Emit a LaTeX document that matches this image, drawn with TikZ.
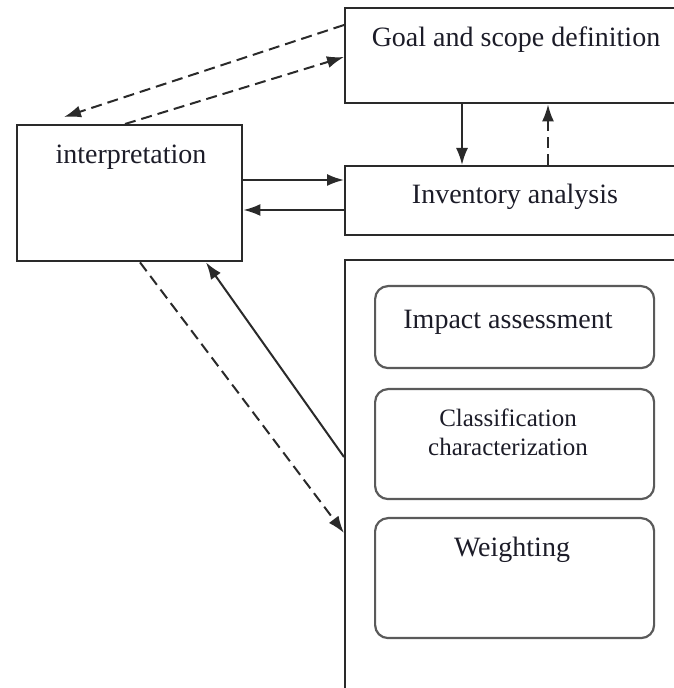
\documentclass[tikz,border=0pt]{standalone}
\usepackage{fontspec}
\setmainfont{Liberation Serif}
\usetikzlibrary{arrows.meta}
\definecolor{boxline}{HTML}{2A2A2A}
\definecolor{roundline}{HTML}{5A5A5A}
\definecolor{textdark}{HTML}{1C1C28}
\newcommand{\boxfont}{\fontsize{28}{32}\selectfont}
\newcommand{\subfont}{\fontsize{25}{29}\selectfont}
\tikzset{
  stagebox/.style={draw=boxline,line width=2.4pt,anchor=north west,inner sep=0pt},
  stepbox/.style={draw=roundline,line width=2.2pt,rounded corners=13pt,anchor=north west,inner sep=0pt},
  boxlabel/.style={text=textdark,inner sep=0pt,align=center,font=\boxfont},
  flow/.style={draw=boxline,line width=2pt,-{Latex[length=17pt,width=12pt]}},
  flowdash/.style={flow,dash pattern=on 11pt off 6pt}
}

\begin{document}
\begin{tikzpicture}[x=1pt,y=1pt]
  \useasboundingbox (0,0) rectangle (674,688);
  \clip (0,0) rectangle (674,688);

  % Stage boxes.
  \node[stagebox,minimum width=360,minimum height=95] (goal) at (344,681) {};
  \node[stagebox,minimum width=360,minimum height=69] (inv) at (344,523) {};
  \node[stagebox,minimum width=225,minimum height=136] (interp) at (16,564) {};
  \node[stagebox,minimum width=360,minimum height=470] (assess) at (344,429) {};

  % Steps of the impact assessment.
  \node[stepbox,minimum width=279,minimum height=82] (impact) at (374,403) {};
  \node[stepbox,minimum width=279,minimum height=110] (classif) at (374,300) {};
  \node[stepbox,minimum width=279,minimum height=120] (weight) at (374,171) {};

  \node[boxlabel] (goaltext) at (516,648) {Goal and scope definition};
  \node[boxlabel] (invtext) at (515,491) {Inventory analysis};
  \node[boxlabel] (interptext) at (131,531) {interpretation};
  \node[boxlabel] (impacttext) at (508,366) {Impact assessment};
  \node[boxlabel,font=\subfont] (classiftext) at (508,256) {Classification\\ characterization};
  \node[boxlabel] (weighttext) at (512,138) {Weighting};

  % Connectors.
  \draw[flow] ([xshift=118]goal.south west) -- ([xshift=118]inv.north west);
  \draw[flowdash] ([xshift=204]inv.north west) -- ([xshift=204]goal.south west);
  \draw[flowdash] ([yshift=-18]goal.north west) -- ([xshift=48,yshift=7]interp.north west);
  \draw[flowdash] ([xshift=109]interp.north west) -- ([yshift=-50]goal.north west);
  \draw[flow] ([yshift=-56]interp.north east) -- ([yshift=-15]inv.north west);
  \draw[flow] ([yshift=-45]inv.north west) -- ([yshift=-86]interp.north east);
  \draw[flowdash] ([xshift=124]interp.south west) -- ([yshift=-274]assess.north west);
  \draw[flow] ([yshift=-198]assess.north west) -- ([xshift=190]interp.south west);
\end{tikzpicture}
\end{document}
